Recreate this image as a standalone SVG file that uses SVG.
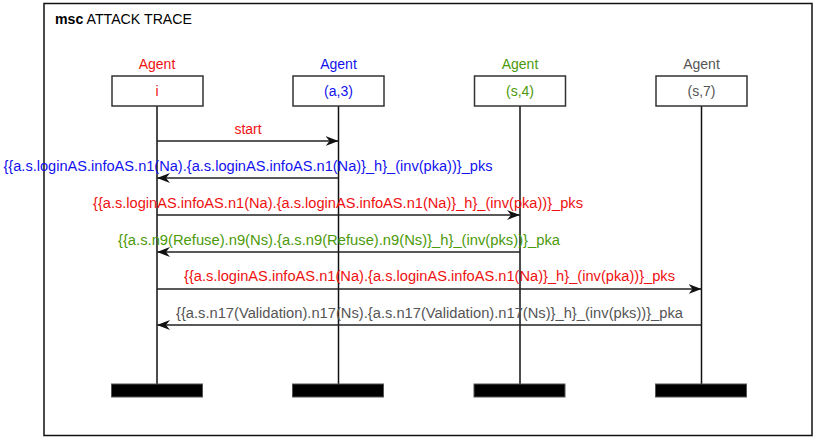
<svg xmlns="http://www.w3.org/2000/svg" width="818" height="439" viewBox="0 0 818 439">
<style>
text{font-family:"Liberation Sans",Arial,sans-serif;font-size:14px}
.c{text-anchor:middle}
.box{fill:#fff;stroke:#333;stroke-width:1.5}
.bar{fill:#000;stroke:#555;stroke-width:1}
.life{stroke:#111;stroke-width:1.5}
.msg{stroke:#222;stroke-width:1.5;fill:none;marker-end:url(#ah)}
.r{fill:#ee1111}.b{fill:#1111ee}.g{fill:#4c9a0a}.k{fill:#555}
</style>
<defs>
<marker id="ah" markerWidth="14" markerHeight="10" refX="13" refY="5" orient="auto" markerUnits="userSpaceOnUse">
<path d="M0,0 L13,5 L0,10 L4,5 z" fill="#111"/>
</marker>
</defs>
<rect x="44" y="3.5" width="768" height="432" fill="#fff" stroke="#111" stroke-width="1.5"/>
<text x="55" y="24" textLength="137" lengthAdjust="spacingAndGlyphs"><tspan font-weight="bold">msc</tspan> ATTACK TRACE</text>
<g id="lifelines">
<line class="life" x1="157" y1="106" x2="157" y2="385"/>
<line class="life" x1="338.5" y1="106" x2="338.5" y2="385"/>
<line class="life" x1="520" y1="106" x2="520" y2="385"/>
<line class="life" x1="701.5" y1="106" x2="701.5" y2="385"/>
</g>
<g id="agent-i">
<text class="c r" x="157" y="69">Agent</text>
<rect class="box" x="112" y="76" width="91" height="30"/>
<text class="c r" x="157" y="96">i</text>
<rect class="bar" x="111.5" y="384" width="91" height="13"/>
</g>
<g id="agent-a3">
<text class="c b" x="338.5" y="69">Agent</text>
<rect class="box" x="293" y="76" width="91" height="30"/>
<text class="c b" x="338.5" y="96">(a,3)</text>
<rect class="bar" x="292.5" y="384" width="91" height="13"/>
</g>
<g id="agent-s4">
<text class="c g" x="520" y="69">Agent</text>
<rect class="box" x="474.5" y="76" width="91" height="30"/>
<text class="c g" x="520" y="96">(s,4)</text>
<rect class="bar" x="474" y="384" width="91" height="13"/>
</g>
<g id="agent-s7">
<text class="c k" x="701.5" y="69">Agent</text>
<rect class="box" x="656" y="76" width="91" height="30"/>
<text class="c k" x="701.5" y="96">(s,7)</text>
<rect class="bar" x="655.5" y="384" width="91" height="13"/>
</g>
<g id="connectors">
<line class="msg" x1="157" y1="141" x2="338.5" y2="141"/>
<line class="msg" x1="338.5" y1="178" x2="157" y2="178"/>
<line class="msg" x1="157" y1="215" x2="520" y2="215"/>
<line class="msg" x1="520" y1="252" x2="157" y2="252"/>
<line class="msg" x1="157" y1="289" x2="701.5" y2="289"/>
<line class="msg" x1="701.5" y1="325" x2="157" y2="325"/>
</g>
<g id="labels">
<text class="c r" x="248" y="134">start</text>
<text class="c b" x="248" y="171" textLength="489" lengthAdjust="spacingAndGlyphs">{{a.s.loginAS.infoAS.n1(Na).{a.s.loginAS.infoAS.n1(Na)}_h}_(inv(pka))}_pks</text>
<text class="c r" x="338" y="208" textLength="490" lengthAdjust="spacingAndGlyphs">{{a.s.loginAS.infoAS.n1(Na).{a.s.loginAS.infoAS.n1(Na)}_h}_(inv(pka))}_pks</text>
<text class="c g" x="339" y="245" textLength="442" lengthAdjust="spacingAndGlyphs">{{a.s.n9(Refuse).n9(Ns).{a.s.n9(Refuse).n9(Ns)}_h}_(inv(pks))}_pka</text>
<text class="c r" x="429.5" y="281" textLength="491" lengthAdjust="spacingAndGlyphs">{{a.s.loginAS.infoAS.n1(Na).{a.s.loginAS.infoAS.n1(Na)}_h}_(inv(pka))}_pks</text>
<text class="c k" x="429.5" y="318" textLength="507" lengthAdjust="spacingAndGlyphs">{{a.s.n17(Validation).n17(Ns).{a.s.n17(Validation).n17(Ns)}_h}_(inv(pks))}_pka</text>
</g>
</svg>
